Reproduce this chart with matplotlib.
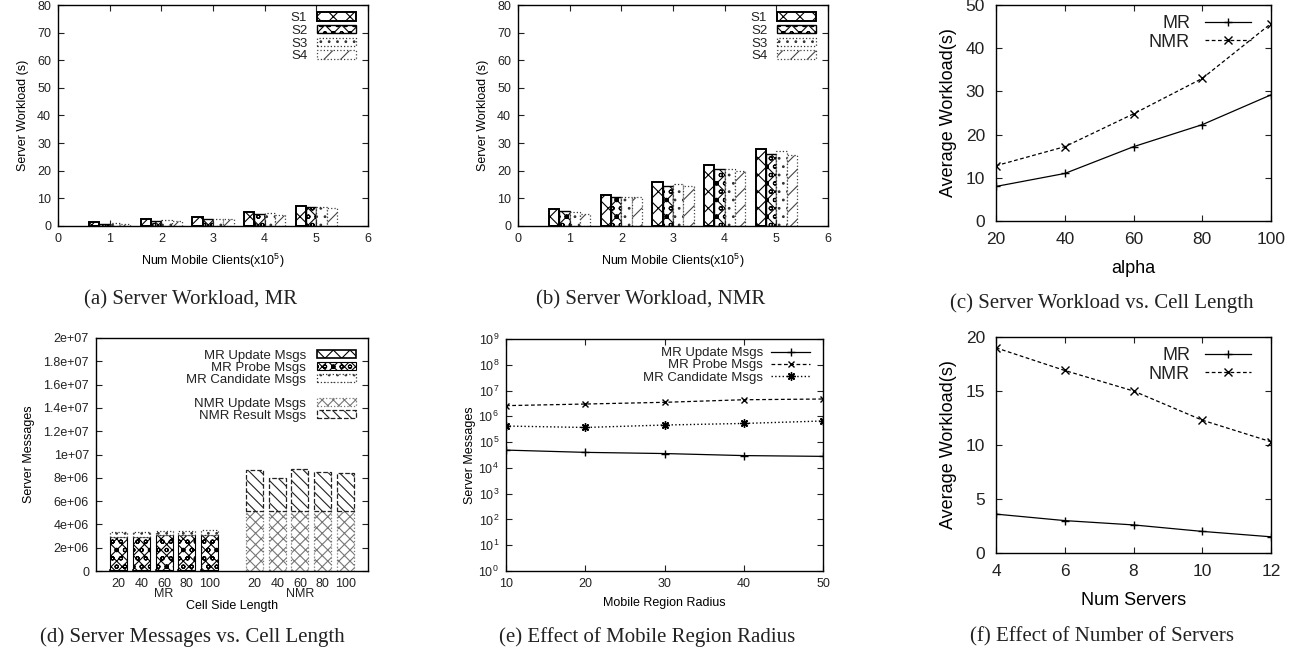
import numpy as np
import matplotlib
matplotlib.use("Agg")
import matplotlib.pyplot as plt

plt.rcParams['font.family'] = ['Liberation Sans', 'DejaVu Sans']
plt.rcParams['mathtext.fontset'] = 'custom'
plt.rcParams['mathtext.rm'] = 'Liberation Sans'
plt.rcParams['mathtext.it'] = 'Liberation Sans'
plt.rcParams['hatch.linewidth'] = 0.8
plt.rcParams['text.color'] = '#222222'
plt.rcParams['xtick.color'] = '#222222'
plt.rcParams['ytick.color'] = '#222222'

# ---- data ----
clients = [1, 2, 3, 4, 5]
series_names = ["S1", "S2", "S3", "S4"]
mr_load = [
    [1.3, 2.5, 3.1, 5.1, 7.1],   # S1
    [0.9, 1.8, 2.5, 4.4, 7.0],   # S2
    [1.0, 2.0, 2.7, 4.6, 7.0],   # S3
    [0.9, 1.7, 2.4, 4.0, 6.4],   # S4
]
nmr_load = [
    [6.0, 11.2, 16.0, 22.0, 28.0],
    [5.3, 10.4, 14.3, 20.5, 26.0],
    [5.2, 10.4, 15.3, 20.8, 27.0],
    [4.5, 10.4, 14.3, 19.8, 25.8],
]

alpha = [20, 40, 60, 80, 100]
alpha_mr = [8.0, 11.0, 17.2, 22.3, 29.2]
alpha_nmr = [12.8, 17.2, 24.8, 33.0, 45.7]

cell_labels = ["20", "40", "60", "80", "100"]
mr_update_msgs = [0.05e6, 0.05e6, 0.05e6, 0.05e6, 0.05e6]
mr_probe_msgs = [2.9e6, 2.9e6, 3.0e6, 3.0e6, 3.05e6]
mr_cand_msgs = [0.40e6, 0.40e6, 0.40e6, 0.40e6, 0.40e6]
nmr_update_msgs = [5.17e6, 5.17e6, 5.17e6, 5.17e6, 5.17e6]
nmr_result_msgs = [3.47e6, 2.81e6, 3.58e6, 3.32e6, 3.27e6]

radius = [10, 20, 30, 40, 50]
rad_update = [4.9e4, 4.0e4, 3.6e4, 3.0e4, 2.8e4]
rad_probe = [2.6e6, 3.0e6, 3.5e6, 4.4e6, 4.7e6]
rad_cand = [4.2e5, 3.7e5, 4.6e5, 5.3e5, 6.6e5]

servers = [4, 6, 8, 10, 12]
srv_mr = [3.6, 3.0, 2.6, 2.0, 1.5]
srv_nmr = [19.0, 16.9, 15.0, 12.3, 10.3]

captions = ["(a) Server Workload, MR", "(b) Server Workload, NMR",
            "(c) Server Workload vs. Cell Length",
            "(d) Server Messages vs. Cell Length",
            "(e) Effect of Mobile Region Radius",
            "(f) Effect of Number of Servers"]

W, H = 1297, 653
fig = plt.figure(figsize=(W / 100, H / 100), dpi=100)


def px_axes(l, t, r, b):
    return fig.add_axes([l / W, 1 - b / H, (r - l) / W, (b - t) / H])


def style(ax, fs, pad=4):
    ax.tick_params(direction='in', top=True, right=True, labelsize=fs,
                   length=4, width=0.8, pad=pad)
    for s in ax.spines.values():
        s.set_linewidth(1.0)
        s.set_color('black')


bar_styles = [
    dict(hatch='xx', edgecolor='black', linewidth=1.4, linestyle='-'),
    dict(hatch='xxoo', edgecolor='black', linewidth=1.0, linestyle='-'),
    dict(hatch='..', edgecolor='#333333', linewidth=0.9, linestyle=':'),
    dict(hatch='//', edgecolor='#444444', linewidth=0.9, linestyle=':'),
]


def workload_bars(ax, data):
    w = 0.2
    x = np.array(clients, dtype=float)
    for i, vals in enumerate(data):
        ax.bar(x - 0.3 + i * w, vals, width=w, color='white',
               label=series_names[i], **bar_styles[i])
    ax.set_xlim(0, 6)
    ax.set_ylim(0, 80)
    ax.set_xticks(range(0, 7))
    ax.set_yticks(range(0, 81, 10))
    ax.set_xlabel('Num Mobile Clients(x10$^5$)', fontsize=9, labelpad=5)
    ax.set_ylabel('Server Workload (s)', fontsize=9, labelpad=6)
    ax.legend(loc='upper right', frameon=False, fontsize=9.5, markerfirst=False,
              handlelength=3.0, handleheight=0.6, labelspacing=0.05,
              handletextpad=0.7, borderaxespad=0.15,
              bbox_to_anchor=(0.985, 1.0))
    style(ax, 9, pad=5)


# (a)
ax = px_axes(58, 5, 368, 226)
workload_bars(ax, mr_load)
# (b)
ax = px_axes(518, 5, 828, 226)
workload_bars(ax, nmr_load)


def workload_lines(ax, x, mr, nmr, xlabel):
    ax.plot(x, mr, '-', color='black', lw=0.9, marker='+', ms=6, label='MR')
    ax.plot(x, nmr, '--', color='black', lw=0.9, marker='x', ms=6,
            dashes=(3, 2), label='NMR')
    ax.set_xlim(x[0], x[-1])
    ax.set_xticks(x)
    ax.set_xlabel(xlabel, fontsize=13, labelpad=9)
    ax.set_ylabel('Average Workload(s)', fontsize=13, labelpad=6)
    ax.legend(loc='upper right', frameon=False, fontsize=13, markerfirst=False,
              handlelength=2.6, labelspacing=0.1, borderaxespad=0.15,
              handletextpad=0.8, bbox_to_anchor=(0.965, 1.0))
    style(ax, 12.5, pad=8)


# (c)
ax = px_axes(996, 5, 1271, 221)
workload_lines(ax, alpha, alpha_mr, alpha_nmr, 'alpha')
ax.set_ylim(0, 50)
ax.set_yticks(range(0, 51, 10))

# (d)
ax = px_axes(96, 338, 368, 571)
pos_mr = np.arange(1, 6)
pos_nmr = np.arange(7, 12)
bw = 0.75
b1 = np.array(mr_update_msgs)
b2 = b1 + np.array(mr_probe_msgs)
ax.bar(pos_mr, mr_update_msgs, bw, color='white', hatch='xx', edgecolor='black',
       lw=1.2, label='MR Update Msgs')
ax.bar(pos_mr, mr_probe_msgs, bw, bottom=b1, color='white', hatch='xxxoo',
       edgecolor='black', lw=0.8, label='MR Probe Msgs')
ax.bar(pos_mr, mr_cand_msgs, bw, bottom=b2, color='white', hatch='..',
       edgecolor='#333333', lw=0.9, ls=':', label='MR Candidate Msgs')
ax.bar(pos_mr, 0, bw, color='none', edgecolor='none', label=' ')
ax.bar(pos_nmr, nmr_update_msgs, bw, color='white', hatch='xxx',
       edgecolor='#777777', lw=0.9, ls=':', label='NMR Update Msgs')
ax.bar(pos_nmr, nmr_result_msgs, bw, bottom=nmr_update_msgs, color='white',
       hatch='\\\\\\', edgecolor='#222222', lw=0.9, ls='--', label='NMR Result Msgs')
ax.set_xlim(0, 12)
ax.set_ylim(0, 2e7)
ax.set_yticks(np.arange(0, 2.01e7, 2e6))
ax.set_yticklabels(['0'] + ['%de+06' % v for v in range(2, 10, 2)] +
                   ['1e+07'] + ['%.1fe+07' % v for v in (1.2, 1.4, 1.6, 1.8)] +
                   ['2e+07'])
ax.set_xticks(list(pos_mr) + list(pos_nmr))
ax.set_xticklabels(cell_labels + cell_labels)
ax.text(3, -0.075, 'MR', transform=ax.get_xaxis_transform(), ha='center',
        va='top', fontsize=9)
ax.text(9, -0.075, 'NMR', transform=ax.get_xaxis_transform(), ha='center',
        va='top', fontsize=9)
ax.set_xlabel('Cell Side Length', fontsize=9, labelpad=7)
ax.set_ylabel('Server Messages', fontsize=9, labelpad=6)
ax.legend(loc='upper right', frameon=False, fontsize=9.5, markerfirst=False,
          handlelength=3.0, handleheight=0.5, labelspacing=0.0,
          handletextpad=0.8, borderaxespad=0.5)
style(ax, 9, pad=5)
ax.tick_params(axis='x', top=False, length=0)

# (e)
ax = px_axes(506, 339, 823, 571)
ax.plot(radius, rad_update, '-', color='black', lw=0.9, marker='+', ms=6,
        label='MR Update Msgs')
ax.plot(radius, rad_probe, '--', color='black', lw=0.9, marker='x', ms=5,
        dashes=(3, 2), label='MR Probe Msgs')
ax.plot(radius, rad_cand, ':', color='black', lw=1.0, marker=(8, 2, 0), ms=6,
        label='MR Candidate Msgs')
ax.set_yscale('log')
ax.set_xlim(10, 50)
ax.set_ylim(1, 1e9)
ax.set_xticks(radius)
ax.set_yticks([10.0 ** k for k in range(10)])
ax.minorticks_off()
ax.set_xlabel('Mobile Region Radius', fontsize=9, labelpad=5)
ax.set_ylabel('Server Messages', fontsize=9, labelpad=2)
ax.legend(loc='upper right', frameon=False, fontsize=9.5, markerfirst=False,
          handlelength=3.0, labelspacing=0.0, borderaxespad=0.2, handletextpad=0.6,
          bbox_to_anchor=(0.985, 1.0))
style(ax, 9, pad=5)

# (f)
ax = px_axes(996, 337, 1271, 553)
workload_lines(ax, servers, srv_mr, srv_nmr, 'Num Servers')
ax.set_ylim(0, 20)
ax.set_yticks(range(0, 21, 5))

# captions
cap_pos = [(191, 300), (651, 300), (1102, 303), (192, 637), (647, 637), (1102, 637)]
for txt, (cx, cy) in zip(captions, cap_pos):
    fig.text(cx / W, 1 - cy / H, txt, ha='center', va='center', fontsize=15,
             family='Liberation Serif', color='#222222')

fig.savefig('out.png', dpi=100)
